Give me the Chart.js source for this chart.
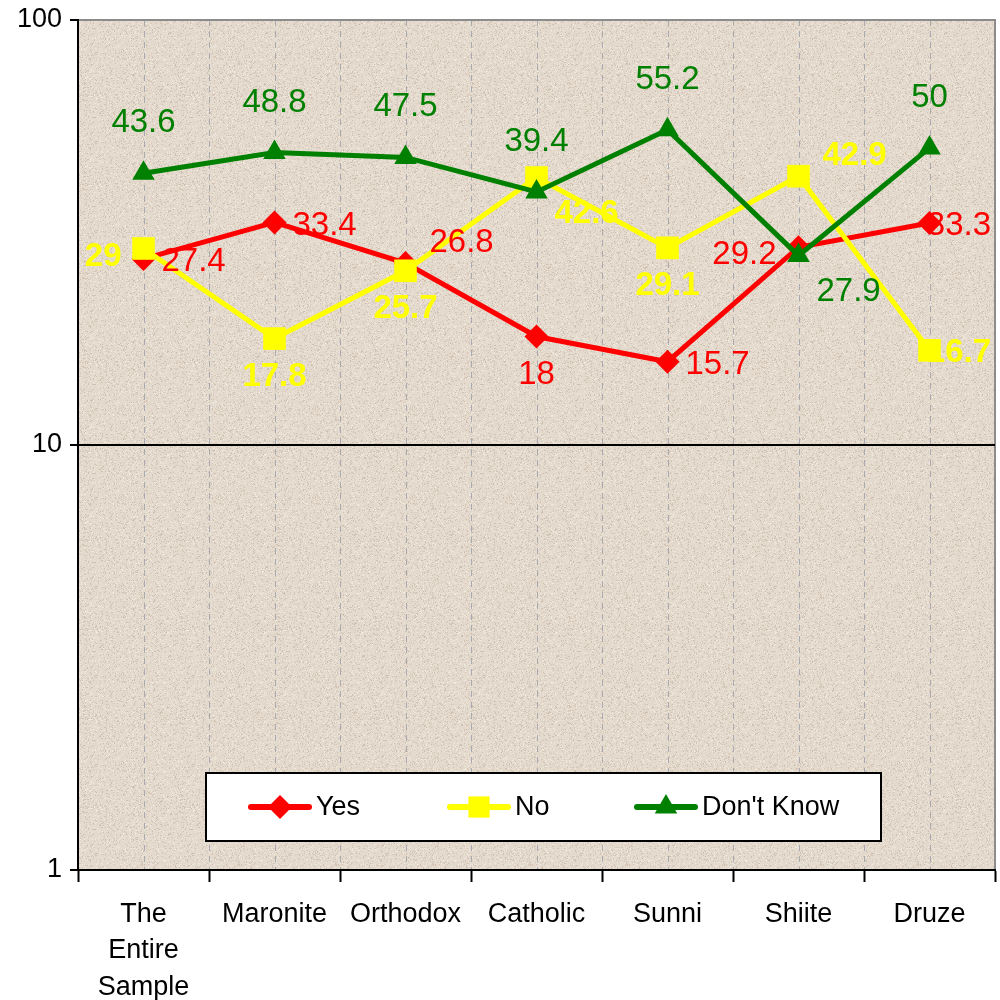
<!DOCTYPE html>
<html>
<head>
<meta charset="utf-8">
<script src="https://cdn.jsdelivr.net/npm/chart.js@4/dist/chart.umd.min.js"></script>
<style>
  html, body { margin: 0; padding: 0; background: #fff; }
  #wrap { width: 1000px; height: 1000px; }
</style>
</head>
<body>
<div id="wrap"><canvas id="chart" width="1000" height="1000"></canvas></div>
<script>
// chart values
const categories = [['The', 'Entire', 'Sample'], 'Maronite', 'Orthodox', 'Catholic', 'Sunni', 'Shiite', 'Druze'];
const yesValues = [27.4, 33.4, 26.8, 18, 15.7, 29.2, 33.3];
const noValues = [29, 17.8, 25.7, 42.6, 29.1, 42.9, 16.7];
const dontKnowValues = [43.6, 48.8, 47.5, 39.4, 55.2, 27.9, 50];
const yTickValues = [1, 10, 100];

// where each value label sits relative to its point
const yesLabelSide = ['e', 'e', 'ne', 's', 'e', 'w', 'e'];
const noLabelSide = ['w', 's', 's', 'se', 's', 'ne', 'e'];
const dontKnowLabelSide = ['n', 'n', 'n', 'n', 'n', 'se', 'n'];

const FONT = "Arial, 'Liberation Sans', sans-serif";

// beige textured plot background
function makeTexture() {
  const c = document.createElement('canvas');
  c.width = 97; c.height = 89;
  const g = c.getContext('2d');
  g.fillStyle = '#e3d9cc';
  g.fillRect(0, 0, c.width, c.height);
  for (let y = 0; y < c.height; y++) {
    for (let x = 0; x < c.width; x++) {
      const h = Math.abs(Math.sin(x * 12.9898 + y * 78.233) * 43758.5453) % 1;
      if (h < 0.10) { g.fillStyle = 'rgba(150,125,100,0.25)'; g.fillRect(x, y, 1, 1); }
      else if (h > 0.88) { g.fillStyle = 'rgba(255,250,240,0.45)'; g.fillRect(x, y, 1, 1); }
    }
  }
  return c;
}

const plotBackground = {
  id: 'plotBackground',
  beforeDraw(chart) {
    const { ctx, chartArea: a } = chart;
    ctx.save();
    ctx.fillStyle = ctx.createPattern(makeTexture(), 'repeat');
    ctx.fillRect(a.left, a.top, a.right - a.left, a.bottom - a.top);
    // dashed verticals at category centres and boundaries
    const x = chart.scales.x;
    ctx.strokeStyle = '#a9aab0';
    ctx.lineWidth = 1;
    ctx.setLineDash([6, 5]);
    const step = (x.getPixelForValue(1) - x.getPixelForValue(0)) / 2;
    for (let i = 0; i < categories.length; i++) {
      const cx = x.getPixelForValue(i);
      [cx - step, cx].forEach(px => {
        if (px <= a.left + 1) return;
        ctx.beginPath();
        ctx.moveTo(Math.round(px) + 0.5, a.top);
        ctx.lineTo(Math.round(px) + 0.5, a.bottom);
        ctx.stroke();
      });
    }
    ctx.setLineDash([]);
    // grey frame on top and right
    ctx.strokeStyle = '#8c8c8c';
    ctx.lineWidth = 2;
    ctx.beginPath();
    ctx.moveTo(a.left, a.top);
    ctx.lineTo(a.right, a.top);
    ctx.lineTo(a.right, a.bottom);
    ctx.stroke();
    ctx.restore();
  }
};

const valueLabels = {
  id: 'valueLabels',
  afterDatasetsDraw(chart) {
    const { ctx, chartArea: a } = chart;
    ctx.save();
    chart.data.datasets.forEach((ds, di) => {
      const meta = chart.getDatasetMeta(di);
      ctx.fillStyle = ds.labelColor;
      ctx.font = (ds.labelBold ? 'bold ' : '') + '33px ' + FONT;
      ctx.textBaseline = 'middle';
      meta.data.forEach((pt, i) => {
        const text = String(ds.data[i]);
        const w = ctx.measureText(text).width;
        let lx, ly;
        switch (ds.labelSide[i]) {
          case 'n': lx = pt.x - w / 2; ly = pt.y - 50; break;
          case 's': lx = pt.x - w / 2; ly = pt.y + 38; break;
          case 'e': lx = pt.x + 18; ly = pt.y + 3; break;
          case 'w': lx = pt.x - 22 - w; ly = pt.y + 8; break;
          case 'ne': lx = pt.x + 24; ly = pt.y - 20; break;
          case 'se': lx = pt.x + 18; ly = pt.y + 36; break;
        }
        if (lx + w > a.right - 4) lx = a.right - 4 - w;
        ctx.textAlign = 'left';
        ctx.fillText(text, lx, ly);
      });
    });
    ctx.restore();
  }
};

const boxLegend = {
  id: 'boxLegend',
  afterDraw(chart) {
    const { ctx, chartArea: a } = chart;
    const top = a.bottom - 97, h = 68;
    const left = a.left + 128, right = a.left + 803;
    ctx.save();
    ctx.fillStyle = '#ffffff';
    ctx.fillRect(left, top, right - left, h);
    ctx.strokeStyle = '#000000';
    ctx.lineWidth = 2;
    ctx.strokeRect(left, top, right - left, h);
    const starts = [left + 45, left + 244, left + 431];
    const cy = top + h / 2;
    chart.data.datasets.forEach((ds, i) => {
      const x0 = starts[i];
      ctx.strokeStyle = ds.borderColor;
      ctx.lineWidth = 6;
      ctx.lineCap = 'round';
      ctx.beginPath();
      ctx.moveTo(x0, cy);
      ctx.lineTo(x0 + 58, cy);
      ctx.stroke();
      ctx.fillStyle = ds.borderColor;
      Chart.helpers.drawPoint(ctx, {
        pointStyle: ds.pointStyle,
        radius: ds.legendRadius,
        borderWidth: 0
      }, x0 + 29, cy);
      ctx.fillStyle = '#000000';
      ctx.font = '27px ' + FONT;
      ctx.textAlign = 'left';
      ctx.textBaseline = 'middle';
      ctx.fillText(ds.label, x0 + 65, cy + 1);
    });
    ctx.restore();
  }
};

const ctx = document.getElementById('chart').getContext('2d');
const chart = new Chart(ctx, {
  type: 'line',
  data: {
    labels: categories,
    datasets: [
      {
        label: 'Yes',
        data: yesValues,
        borderColor: '#ff0000',
        backgroundColor: '#ff0000',
        pointStyle: 'rectRot',
        pointRadius: 12,
        legendRadius: 12,
        labelColor: '#ff0000',
        labelBold: false,
        labelSide: yesLabelSide,
        order: 3
      },
      {
        label: 'No',
        data: noValues,
        borderColor: '#ffff00',
        backgroundColor: '#ffff00',
        pointStyle: 'rect',
        pointRadius: 16,
        legendRadius: 15,
        labelColor: '#ffff00',
        labelBold: true,
        labelSide: noLabelSide,
        order: 2
      },
      {
        label: "Don't Know",
        data: dontKnowValues,
        borderColor: '#008000',
        backgroundColor: '#008000',
        pointStyle: 'triangle',
        pointRadius: 13,
        legendRadius: 13,
        labelColor: '#008000',
        labelBold: false,
        labelSide: dontKnowLabelSide,
        order: 1
      }
    ]
  },
  options: {
    responsive: false,
    animation: false,
    devicePixelRatio: 1,
    layout: { autoPadding: false, padding: { top: 20, right: 5, left: 0, bottom: 0 } },
    elements: {
      line: { borderWidth: 5, tension: 0 },
      point: { borderWidth: 0, hoverRadius: 12 }
    },
    plugins: {
      legend: { display: false },
      tooltip: { enabled: false },
      title: { display: false }
    },
    scales: {
      x: {
        type: 'category',
        offset: true,
        grid: {
          offset: true,
          drawOnChartArea: false,
          drawTicks: true,
          tickLength: 12,
          tickColor: '#000000',
          tickWidth: 2
        },
        border: { color: '#000000', width: 2 },
        ticks: {
          color: '#000000',
          padding: 14,
          maxRotation: 0,
          autoSkip: false,
          font: { family: FONT, size: 27, lineHeight: 1.35 }
        },
        afterFit(scale) {
          scale.height = 130;
          scale.paddingLeft = 0;
          scale.paddingRight = 0;
        }
      },
      y: {
        type: 'logarithmic',
        min: 1,
        max: 100,
        afterBuildTicks(scale) {
          scale.ticks = yTickValues.map(v => ({ value: v }));
        },
        ticks: {
          color: '#000000',
          padding: 8,
          font: { family: FONT, size: 27 },
          callback: v => String(v)
        },
        grid: {
          color: c => (c.tick && c.tick.value === 10 ? '#000000' : 'rgba(0,0,0,0)'),
          lineWidth: 2,
          tickLength: 8,
          tickColor: '#000000',
          tickWidth: 2
        },
        border: { color: '#000000', width: 2 },
        afterFit(scale) {
          scale.width = 78;
          scale.paddingTop = 0;
          scale.paddingBottom = 0;
        }
      }
    }
  },
  plugins: [plotBackground, valueLabels, boxLegend]
});
</script>
</body>
</html>
